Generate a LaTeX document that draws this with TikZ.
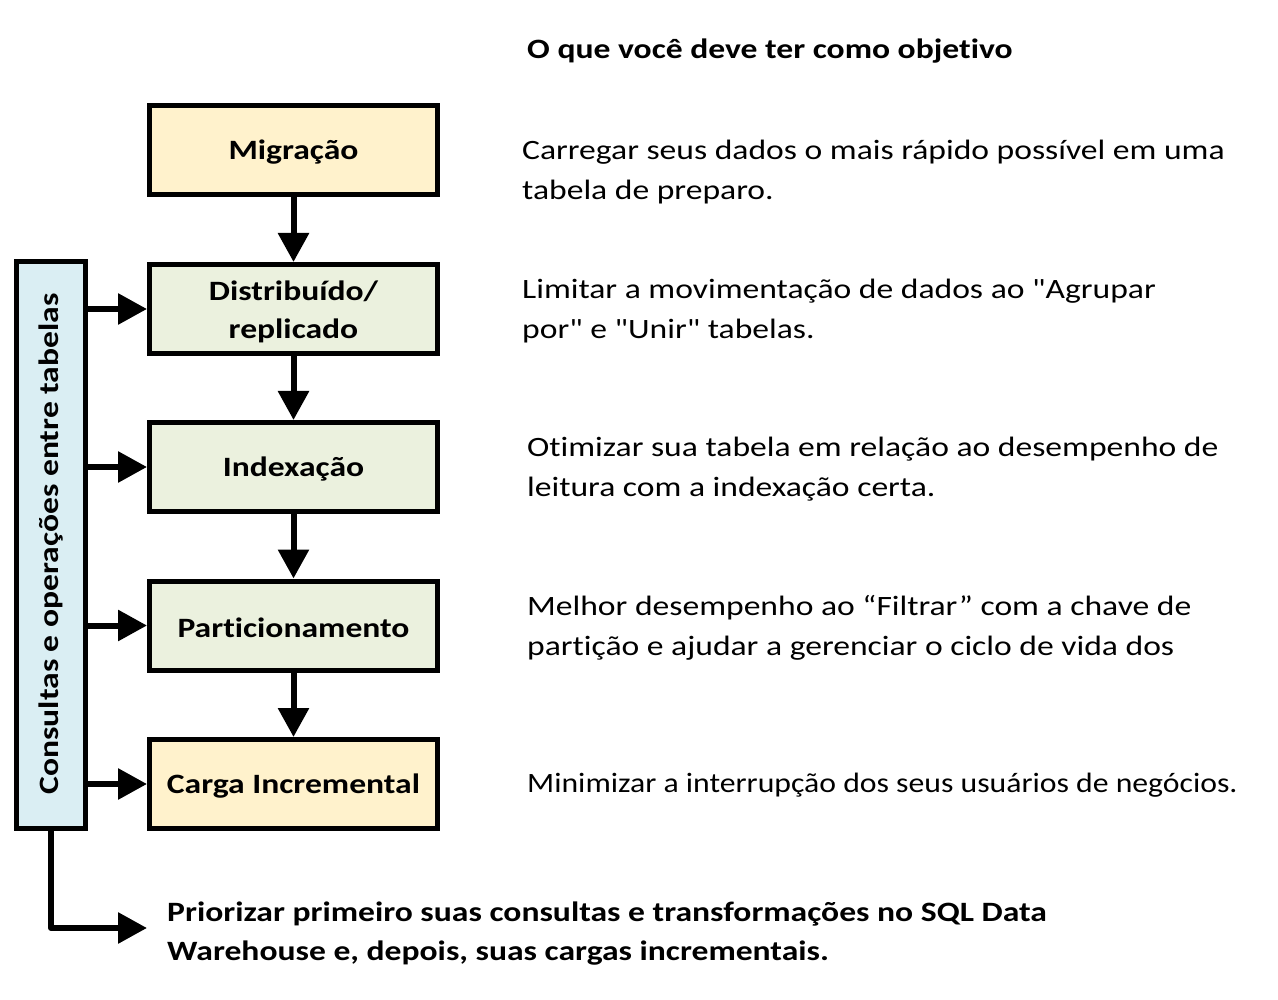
\documentclass[tikz,border=0pt]{standalone}
\usepackage{fontspec}
\setmainfont{Carlito}[FakeStretch=1.2, Ligatures=NoCommon]
\newfontfamily\plainfont{Carlito}[FakeStretch=1.2, Ligatures=NoCommon]
\usetikzlibrary{arrows.meta,calc}
\definecolor{ylw}{HTML}{FFF2CC}
\definecolor{grn}{HTML}{EBF1DE}
\definecolor{blu}{HTML}{DAEEF3}
\tikzset{
  stepbox/.style={draw=black, line width=5pt, minimum width=288pt, minimum height=89pt, inner sep=0pt},
  boxtxt/.style={inner sep=0pt, align=center, font=\fontsize{28}{38}\selectfont\bfseries},
  desc/.style={anchor=west, align=left, inner sep=0pt, font=\plainfont\fontsize{28}{39.5}\selectfont},
  conn/.style={line width=6pt, -{Triangle[width=30pt,length=29pt]}},
}
\begin{document}
\begin{tikzpicture}[x=1pt,y=-1pt]
\useasboundingbox[fill=white] (0,0) rectangle (1278,1000);

\node[font=\fontsize{28}{34}\selectfont\bfseries, anchor=west, inner sep=0pt] (title) at (527,51) {O que você deve ter como objetivo};

\node[stepbox, fill=ylw] (mig) at (293.5,150) {};
\node[stepbox, fill=grn] (dist) at (293.5,309) {};
\node[stepbox, fill=grn] (idx) at (293.5,467) {};
\node[stepbox, fill=grn] (part) at (293.5,625.5) {};
\node[stepbox, fill=ylw] (carga) at (293.5,784) {};
\node[boxtxt] (migt) at ($(mig.center)+(0,2.5)$) {Migração};
\node[boxtxt] (distt) at ($(dist.center)+(0,2.5)$) {Distribuído/\\replicado};
\node[boxtxt] (idxt) at ($(idx.center)+(0,2.5)$) {Indexação};
\node[boxtxt] (partt) at ($(part.center)+(0,2)$) {Particionamento};
\node[boxtxt] (cargat) at ($(carga.center)+(0,2)$) {Carga Incremental};

\node[draw=black, fill=blu, line width=5pt, minimum width=69pt, minimum height=567pt, inner sep=0pt] (blue) at (51,545) {};
\node[rotate=90, font=\fontsize{28}{34}\selectfont\bfseries, inner sep=0pt] (bluetxt) at (51,544) {Consultas e operações entre tabelas};

\draw[conn] (mig.south) -- (dist.north);
\draw[conn] (dist.south) -- (idx.north);
\draw[conn] (idx.south) -- (part.north);
\draw[conn] (part.south) -- (carga.north);

\draw[conn] (blue.east |- dist.west) -- (dist.west);
\draw[conn] (blue.east |- idx.west) -- (idx.west);
\draw[conn] (blue.east |- part.west) -- (part.west);
\draw[conn] (blue.east |- carga.west) -- (carga.west);

\coordinate (botend) at (147,928);
\draw[conn, line join=round] (blue.south) -- (blue.south |- botend) -- (botend);

\node[desc] (d1) at (522,172) {Carregar seus dados o mais rápido possível em uma\\tabela de preparo.};
\node[desc] (d2) at (522,311) {Limitar a movimentação de dados ao "Agrupar\\por" e "Unir" tabelas.};
\node[desc] (d3) at (527,469) {Otimizar sua tabela em relação ao desempenho de\\leitura com a indexação certa.};
\node[desc] (d4) at (527,628) {Melhor desempenho ao “Filtrar” com a chave de\\partição e ajudar a gerenciar o ciclo de vida dos};
\node[desc] (d5) at (527,785) {\scalebox{0.944}[1]{Minimizar a interrupção dos seus usuários de negócios.}};

\node[desc, font=\fontsize{28}{39}\selectfont\bfseries] (bot) at (167,933.5) {Priorizar primeiro suas consultas e transformações no SQL Data\\Warehouse e, depois, suas cargas incrementais.};
\end{tikzpicture}
\end{document}
